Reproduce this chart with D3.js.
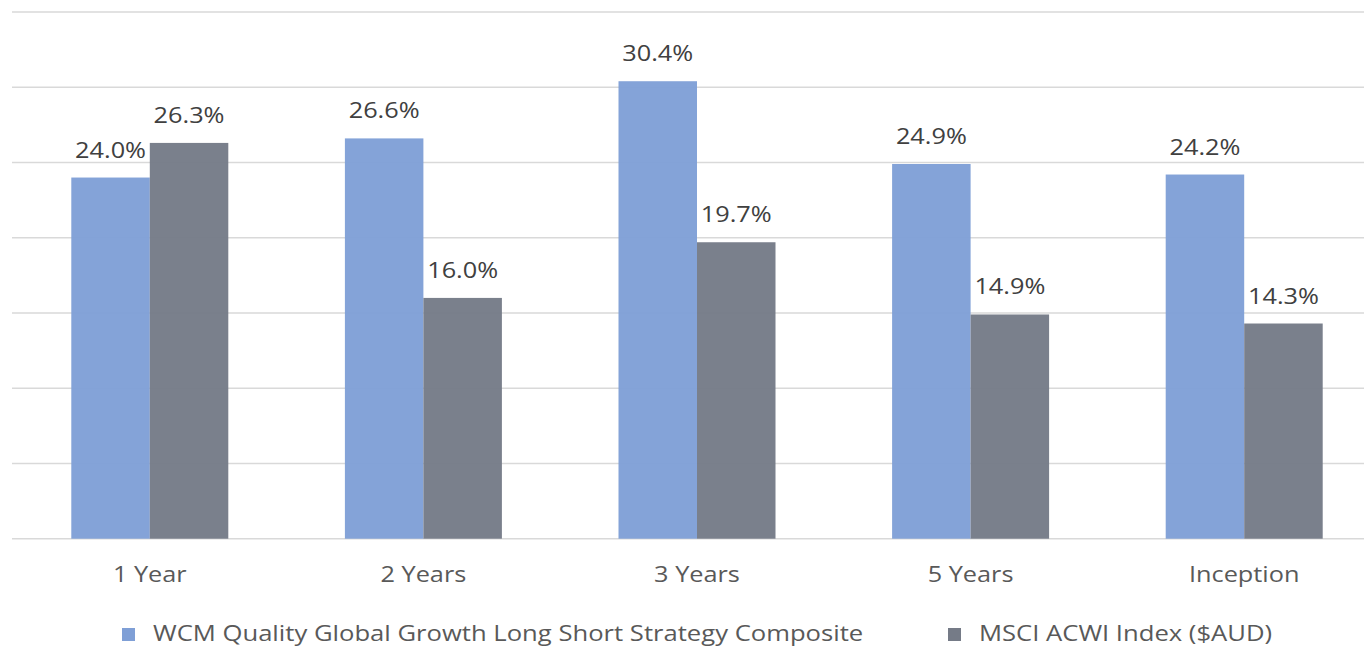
<!DOCTYPE html>
<html>
<head>
<meta charset="utf-8">
<script src="https://cdn.jsdelivr.net/npm/d3@7/dist/d3.min.js"></script>
<style>
  html, body { margin: 0; padding: 0; background: #fff; overflow: hidden; }
  svg { display: block; font-family: "Open Sans", "Noto Sans", sans-serif; }
</style>
</head>
<body>
<svg id="chart" width="1364" height="646"></svg>
<script>
// Annualised returns by period
const categories = ["1 Year", "2 Years", "3 Years", "5 Years", "Inception"];
const seriesNames = ["WCM Quality Global Growth Long Short Strategy Composite", "MSCI ACWI Index ($AUD)"];
const compositeReturns = [24.0, 26.6, 30.4, 24.9, 24.2];
const indexReturns = [26.3, 16.0, 19.7, 14.9, 14.3];
const yTicks = [0, 5, 10, 15, 20, 25, 30, 35];
const colors = ["#7f9fd6", "#757b87"];

const svg = d3.select("#chart");
const plot = { left: 13, right: 1381, top: 12, bottom: 538.7 };
const stretch = 1.15;        // wide text setting
const legendStretch = 1.165;

const x = d3.scaleBand().domain(categories).range([plot.left, plot.right]).padding(0);
const y = d3.scaleLinear().domain([0, 35]).range([plot.bottom, plot.top]);
const groupWidth = 157;
const xs = d3.scaleBand().domain(seriesNames).range([0, groupWidth]).padding(0);

// horizontal gridlines
svg.append("g")
  .selectAll("line")
  .data(yTicks)
  .join("line")
  .attr("x1", plot.left - 1)
  .attr("x2", plot.right)
  .attr("y1", d => y(d))
  .attr("y2", d => y(d))
  .attr("stroke", "#d9d9d9")
  .attr("stroke-width", 1.5);

const rows = categories.map((c, i) => ({ cat: c, values: [compositeReturns[i], indexReturns[i]] }));

const groups = svg.append("g")
  .selectAll("g")
  .data(rows)
  .join("g")
  .attr("transform", d => `translate(${x(d.cat) + x.bandwidth() / 2 - groupWidth / 2},0)`);

const cells = groups.selectAll("g")
  .data(d => d.values.map((v, i) => ({ name: seriesNames[i], v, i })))
  .join("g");

cells.append("rect")
  .attr("x", d => xs(d.name))
  .attr("width", xs.bandwidth())
  .attr("y", d => y(d.v))
  .attr("height", d => y(0) - y(d.v))
  .attr("fill", d => colors[d.i])
  .attr("fill-opacity", 0.96);

cells.append("text")
  .attr("transform", d => `translate(${xs(d.name) + xs.bandwidth() / 2},${y(d.v) - 20}) scale(${stretch},1)`)
  .attr("text-anchor", "middle")
  .attr("font-size", 22)
  .attr("fill", "#404040")
  .text(d => d.v.toFixed(1) + "%");

// category axis labels
svg.append("g")
  .selectAll("text")
  .data(categories)
  .join("text")
  .attr("transform", d => `translate(${x(d) + x.bandwidth() / 2},582) scale(${stretch},1)`)
  .attr("text-anchor", "middle")
  .attr("font-size", 22)
  .attr("fill", "#595959")
  .text(d => d);

// legend
const legendItems = [
  { name: seriesNames[0], color: colors[0], x: 122 },
  { name: seriesNames[1], color: colors[1], x: 948 }
];
const legend = svg.append("g")
  .selectAll("g")
  .data(legendItems)
  .join("g")
  .attr("transform", d => `translate(${d.x},0)`);
legend.append("rect")
  .attr("x", 0).attr("y", 628).attr("width", 13).attr("height", 13)
  .attr("fill", d => d.color);
legend.append("text")
  .attr("transform", `translate(31,641) scale(${legendStretch},1)`)
  .attr("font-size", 22)
  .attr("fill", "#595959")
  .text(d => d.name);
</script>
</body>
</html>
